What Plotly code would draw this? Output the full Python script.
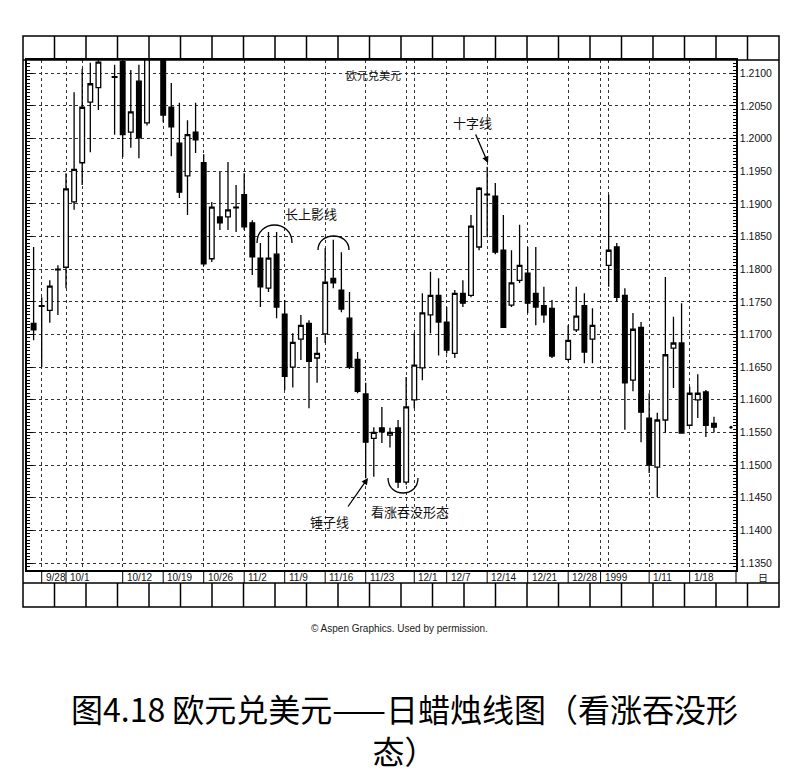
import plotly.graph_objects as go

# ---------------- data (trading-day index, OHLC) ----------------
day_idx = [0, 1, 2, 3, 4, 5, 6, 7, 8, 10, 11, 12, 13, 14, 16, 17, 18, 19, 20,
           21, 22, 23, 24, 25, 26, 27, 28, 29, 30, 31, 32, 33, 34, 35, 36, 37, 38, 39, 40,
           41, 42, 43, 44, 45, 46, 47, 48, 49, 50, 51, 52, 53, 54, 55, 56, 57, 58, 59, 60,
           61, 62, 63, 64, 66, 67, 68, 69, 71, 72, 73, 74, 75, 76, 77, 78, 79, 80,
           81, 82, 83, 84]
open_ = [1.1717, 1.1744, 1.1737, 1.1799, 1.1803, 1.1903, 1.1963, 1.2056, 1.2078, 1.2095,
         1.2118, 1.2010, 1.2088, 1.2024, 1.2125, 1.2048, 1.1993, 1.1943, 1.2010,
         1.1963, 1.1816, 1.1880, 1.1880, 1.1895, 1.1914, 1.1871, 1.1817, 1.1771, 1.1823,
         1.1731, 1.1650, 1.1693, 1.1717, 1.1664, 1.1701, 1.1786, 1.1768, 1.1725, 1.1662,
         1.1609, 1.1541, 1.1557, 1.1546, 1.1557, 1.1474, 1.1600, 1.1649, 1.1730, 1.1760,
         1.1719, 1.1671, 1.1763, 1.1760, 1.1834, 1.1915, 1.1912, 1.1829, 1.1745, 1.1783,
         1.1794, 1.1763, 1.1744, 1.1740, 1.1662, 1.1707, 1.1744, 1.1693,
         1.1806, 1.1834, 1.1760, 1.1630, 1.1711, 1.1572, 1.1497, 1.1569, 1.1679, 1.1687,
         1.1561, 1.1600, 1.1612, 1.1564]
high_ = [1.1834, 1.1757, 1.1783, 1.1806, 1.1947, 1.2071, 1.2107, 1.2116, 1.2135, 1.2113,
         1.2130, 1.2105, 1.2113, 1.2135, 1.2135, 1.2085, 1.2055, 1.2028, 1.2055,
         1.1976, 1.1903, 1.1949, 1.1964, 1.1929, 1.1947, 1.1875, 1.1840, 1.1857, 1.1857,
         1.1753, 1.1702, 1.1730, 1.1722, 1.1696, 1.1832, 1.1845, 1.1826, 1.1765, 1.1673,
         1.1626, 1.1558, 1.1589, 1.1557, 1.1569, 1.1635, 1.1702, 1.1763, 1.1796, 1.1786,
         1.1742, 1.1768, 1.1783, 1.1883, 1.1926, 1.1957, 1.1932, 1.1883, 1.1829, 1.1868,
         1.1834, 1.1834, 1.1773, 1.1753, 1.1714, 1.1773, 1.1763, 1.1740,
         1.1914, 1.1840, 1.1771, 1.1733, 1.1719, 1.1610, 1.1580, 1.1788, 1.1727, 1.1748,
         1.1620, 1.1639, 1.1615, 1.1574]
low_ = [1.1691, 1.1650, 1.1718, 1.1730, 1.1771, 1.1891, 1.1929, 1.1979, 1.2044, 1.2006,
        1.1972, 1.1986, 1.1970, 1.2020, 1.2025, 1.1973, 1.1909, 1.1883, 1.1978,
        1.1805, 1.1811, 1.1860, 1.1860, 1.1857, 1.1860, 1.1791, 1.1742, 1.1765, 1.1725,
        1.1615, 1.1619, 1.1661, 1.1587, 1.1626, 1.1687, 1.1771, 1.1734, 1.1647, 1.1610,
        1.1480, 1.1482, 1.1534, 1.1527, 1.1465, 1.1470, 1.1587, 1.1630, 1.1702, 1.1668,
        1.1671, 1.1664, 1.1742, 1.1757, 1.1829, 1.1849, 1.1823, 1.1711, 1.1742, 1.1779,
        1.1733, 1.1714, 1.1718, 1.1664, 1.1659, 1.1704, 1.1656, 1.1656,
        1.1773, 1.1750, 1.1554, 1.1613, 1.1535, 1.1488, 1.1451, 1.1550, 1.1618, 1.1549,
        1.1561, 1.1572, 1.1543, 1.1550]
close_ = [1.1707, 1.1743, 1.1774, 1.1800, 1.1923, 1.1953, 1.2048, 1.2084, 1.2117, 1.2094,
          1.2006, 1.2041, 1.2001, 1.2125, 1.2036, 1.2018, 1.1918, 1.2006, 1.1998,
          1.1808, 1.1895, 1.1871, 1.1891, 1.1894, 1.1865, 1.1819, 1.1773, 1.1817, 1.1742,
          1.1636, 1.1688, 1.1714, 1.1659, 1.1671, 1.1780, 1.1779, 1.1739, 1.1650, 1.1613,
          1.1535, 1.1550, 1.1551, 1.1550, 1.1474, 1.1589, 1.1653, 1.1733, 1.1760, 1.1719,
          1.1676, 1.1763, 1.1748, 1.1866, 1.1924, 1.1914, 1.1826, 1.1711, 1.1779, 1.1806,
          1.1748, 1.1742, 1.1730, 1.1667, 1.1691, 1.1728, 1.1673, 1.1714,
          1.1829, 1.1757, 1.1626, 1.1708, 1.1581, 1.1500, 1.1569, 1.1669, 1.1687, 1.1549,
          1.1610, 1.1610, 1.1561, 1.1558]

grid_idx = [1, 4, 6, 11, 16, 21, 26, 31, 36, 41, 46, 47, 51, 56, 61, 66, 70, 71, 76, 81]
label_idx = [1, 4, 11, 16, 21, 26, 31, 36, 41, 47, 51, 56, 61, 66, 70, 76, 81]
date_labels = ["9/28", "10/1", "10/12", "10/19", "10/26", "11/2", "11/9", "11/16", "11/23",
               "12/1", "12/7", "12/14", "12/21", "12/28", "1999", "1/11", "1/18"]

# ---------------- layout helpers (pixel -> paper) ----------------
W, H = 801, 777
L, R, T, B = 27, 736, 60, 570


def px(x):
    return (x - L) / (R - L)


def py(y):
    return (B - y) / (B - T)


fig = go.Figure()
fig.add_trace(go.Candlestick(
    x=day_idx, open=open_, high=high_, low=low_, close=close_,
    increasing=dict(line=dict(color="black", width=1.3), fillcolor="white"),
    decreasing=dict(line=dict(color="black", width=1.3), fillcolor="black"),
    whiskerwidth=0, hoverinfo="skip", showlegend=False))

# last-price dot next to the axis
fig.add_trace(go.Scatter(x=[day_idx[-1] + 2.1], y=[close_[-1]], mode="markers",
                         marker=dict(size=3, color="black"), cliponaxis=False,
                         hoverinfo="skip", showlegend=False))

shapes = []
lk = dict(color="black", width=1.5)
# outer frame
shapes.append(dict(type="rect", xref="paper", yref="paper", x0=px(23), x1=px(779),
                   y0=py(607), y1=py(36), line=lk))
# header / strip horizontal lines
for yy in (60, 583):
    shapes.append(dict(type="line", xref="paper", yref="paper", x0=px(23), x1=px(779),
                       y0=py(yy), y1=py(yy), line=lk))
# right axis area divider
shapes.append(dict(type="line", xref="paper", yref="paper", x0=px(736), x1=px(736),
                   y0=py(583), y1=py(570), line=dict(color="black", width=1)))
# header and footer box dividers
for k in range(1, 24):
    xx = 23 + 31.5 * k
    shapes.append(dict(type="line", xref="paper", yref="paper", x0=px(xx), x1=px(xx),
                       y0=py(60), y1=py(36), line=lk))
    shapes.append(dict(type="line", xref="paper", yref="paper", x0=px(xx), x1=px(xx),
                       y0=py(607), y1=py(583), line=lk))
# date strip dividers
for d in label_idx:
    shapes.append(dict(type="line", xref="x", yref="paper", x0=d, x1=d,
                       y0=py(583), y1=py(570), line=dict(color="black", width=1)))


def arc(x0, x1, ybase, yext):
    cy = ybase - (ybase - yext) * 4 / 3
    return (f"M {px(x0)},{py(ybase)} C {px(x0)},{py(cy)} {px(x1)},{py(cy)} "
            f"{px(x1)},{py(ybase)}")


for p in (arc(257, 292, 243, 225), arc(318, 349, 250, 236), arc(388, 418, 478, 493)):
    shapes.append(dict(type="path", xref="paper", yref="paper", path=p,
                       line=dict(color="black", width=1.3)))

annotations = []
for d, lab in zip(label_idx, date_labels):
    annotations.append(dict(x=d, xref="x", y=py(577), yref="paper", text=lab,
                            showarrow=False, xanchor="left", yanchor="middle", xshift=2,
                            font=dict(family="Liberation Sans, Arial", size=10, color="#111")))
annotations.append(dict(x=px(763), y=py(577.5), xref="paper", yref="paper", text="日",
                        showarrow=False, xanchor="center", yanchor="middle",
                        font=dict(family="Noto Sans CJK SC", size=10, color="#111")))

cjk = "Noto Sans CJK SC"
txt = [("欧元兑美元", 373, 75, 11), ("十字线", 472, 122, 13), ("长上影线", 311, 213, 13),
       ("锤子线", 329, 521, 13), ("看涨吞没形态", 410, 511, 13)]
for t, xx, yy, fs in txt:
    annotations.append(dict(x=px(xx), y=py(yy), xref="paper", yref="paper", text=t,
                            showarrow=False, xanchor="center", yanchor="middle",
                            font=dict(family=cjk, size=fs, color="#111")))
# arrows
annotations.append(dict(x=px(488), y=py(163), xref="paper", yref="paper", text="",
                        showarrow=True, arrowhead=2, arrowsize=1, arrowwidth=1.3,
                        arrowcolor="black", ax=-13, ay=-30))
annotations.append(dict(x=px(368), y=py(478), xref="paper", yref="paper", text="",
                        showarrow=True, arrowhead=2, arrowsize=1, arrowwidth=1.3,
                        arrowcolor="black", ax=-21, ay=30))
# credit + caption
annotations.append(dict(x=px(400), y=py(628), xref="paper", yref="paper",
                        text="© Aspen Graphics. Used by permission.", showarrow=False,
                        xanchor="center", yanchor="middle",
                        font=dict(family="Liberation Sans, Arial", size=10, color="#222")))
annotations.append(dict(x=px(405), y=py(729), xref="paper", yref="paper",
                        text="图4.18 欧元兑美元——日蜡烛线图（看涨吞没形<br>态）",
                        showarrow=False, align="center",
                        xanchor="center", yanchor="middle",
                        font=dict(family=cjk, size=32, color="black")))

fig.update_layout(
    width=W, height=H,
    margin=dict(l=L, r=W - R, t=T, b=H - B, pad=0),
    paper_bgcolor="white", plot_bgcolor="white", showlegend=False,
    boxgap=0.18,
    shapes=shapes, annotations=annotations,
    xaxis=dict(range=[-0.815, 86.72], tickmode="array", tickvals=grid_idx,
               showticklabels=False, ticks="", showgrid=True, gridcolor="#333",
               griddash="dot", gridwidth=1, showline=True, linecolor="black",
               linewidth=1.5, mirror=True, zeroline=False,
               rangeslider=dict(visible=False)),
    yaxis=dict(range=[1.13393, 1.21204], side="right", tickmode="linear", tick0=1.135,
               dtick=0.005, tickformat=".4f", ticks="inside", ticklen=6,
               tickcolor="black",
               minor=dict(tickmode="linear", tick0=1.135, dtick=0.0005, ticks="inside",
                          ticklen=3, tickcolor="black", showgrid=False),
               showgrid=True, griddash="dot", gridcolor="#333", gridwidth=1,
               showline=True, linecolor="black", linewidth=1.5, mirror="ticks",
               zeroline=False,
               tickfont=dict(family="Liberation Sans, Arial", size=10.5, color="#111")),
)

fig.write_html("out.html")
